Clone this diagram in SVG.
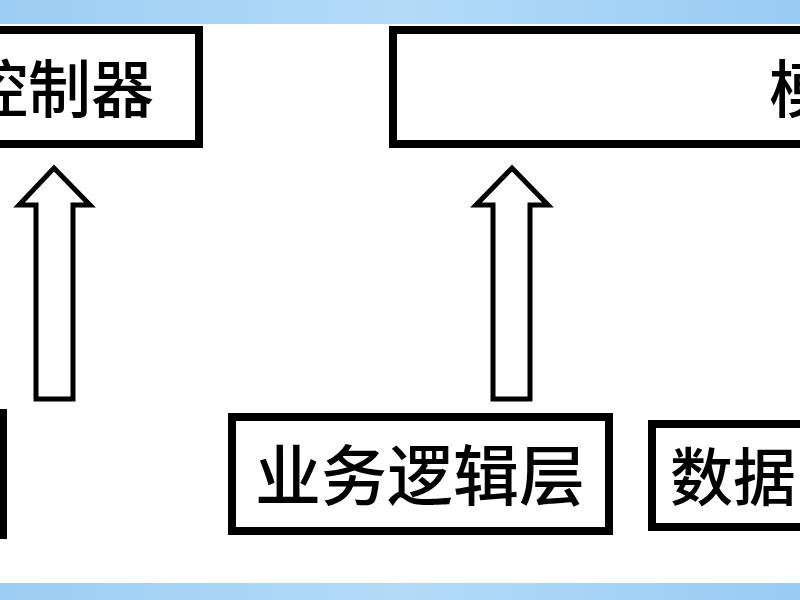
<svg xmlns="http://www.w3.org/2000/svg" width="800" height="600" viewBox="0 0 800 600">
<defs>
<linearGradient id="band" x1="0" y1="0" x2="1" y2="0">
<stop offset="0" stop-color="#9ccdf4"/>
<stop offset="0.5" stop-color="#b3dbf8"/>
<stop offset="1" stop-color="#98cbf5"/>
</linearGradient>
<style>
.box{fill:#ffffff;stroke:#000000;stroke-width:8}
.arrow{fill:#ffffff;stroke:#000000;stroke-width:5;stroke-linejoin:miter}
.lbl{font-family:"Noto Sans CJK SC","Noto Sans CJK JP",sans-serif;font-size:63px;font-weight:500;fill:#000000;dominant-baseline:central}
.lbl2{font-size:66px}
</style>
</defs>
<rect x="0" y="0" width="800" height="600" fill="#ffffff"/>
<rect x="0" y="0" width="800" height="24" fill="url(#band)"/>
<rect x="0" y="583" width="800" height="17" fill="url(#band)"/>
<g id="controller">
<rect class="box" x="-300" y="30" width="499" height="114"/>
<text class="lbl" x="154" y="84" text-anchor="end">控制器</text>
</g>
<g id="model">
<rect class="box" x="393" y="30" width="500" height="114"/>
<text class="lbl" x="769" y="84">模</text>
</g>
<g id="left-box">
<rect class="box" x="-300" y="413" width="303" height="122"/>
</g>
<g id="business-logic">
<rect class="box" x="232" y="417" width="377" height="114"/>
<text class="lbl lbl2" x="420" y="471" text-anchor="middle">业务逻辑层</text>
</g>
<g id="data">
<rect class="box" x="652" y="424" width="300" height="103"/>
<text class="lbl" x="670" y="472">数据</text>
</g>
<g id="connectors">
<path class="arrow" d="M36,399 L36,205 L19,205 L54,168 L90,205 L73,205 L73,399 Z"/>
<path class="arrow" d="M493,399 L493,205 L476,205 L512,168 L548,205 L530,205 L530,399 Z"/>
</g>
</svg>
